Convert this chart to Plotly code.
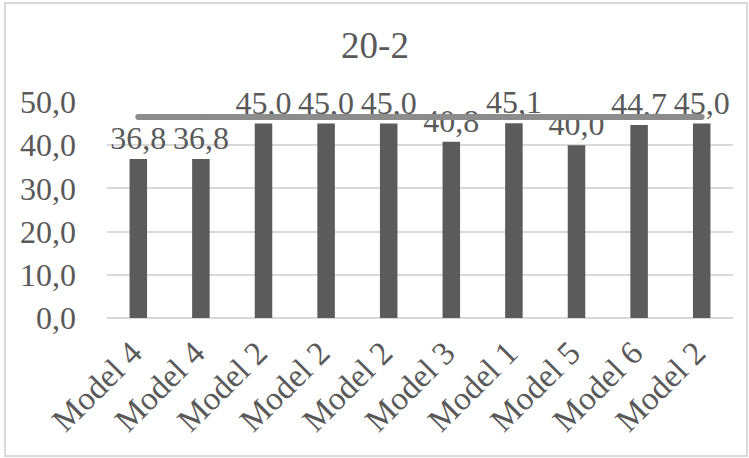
import plotly.graph_objects as go

categories = ["Model 4", "Model 4", "Model 2", "Model 2", "Model 2",
              "Model 3", "Model 1", "Model 5", "Model 6", "Model 2"]
values = [36.8, 36.8, 45.0, 45.0, 45.0, 40.8, 45.1, 40.0, 44.7, 45.0]
line_values = [46.5] * len(categories)
y_ticks = [0, 10, 20, 30, 40, 50]

W, H = 749, 458
L, R, T, B = 107, 16, 102, 140
pw, ph = W - L - R, H - T - B

x_idx = list(range(len(categories)))
FONT = "Liberation Serif"
TXT = "#595959"

fig = go.Figure()
fig.add_trace(go.Bar(
    x=x_idx, y=values, width=0.28, marker=dict(color="#5b5b5b", line=dict(width=0)),
    texttemplate="%{y:.1f}", textposition="outside", cliponaxis=False,
    constraintext="none",
    textfont=dict(family=FONT, size=32, color=TXT), showlegend=False,
))
fig.add_trace(go.Scatter(
    x=x_idx, y=line_values, mode="lines+markers",
    line=dict(color="#8c8c8c", width=6),
    marker=dict(color="#8c8c8c", size=6, line=dict(width=0)),
    showlegend=False, cliponaxis=False,
))

fig.update_layout(
    width=W, height=H, margin=dict(l=L, r=R, t=T, b=B),
    paper_bgcolor="white", plot_bgcolor="white", separators=",.",
    font=dict(family=FONT, color=TXT, size=30),
    title=dict(text="20-2", x=375 / W, xref="container", xanchor="center",
               y=1 - 45 / H, yref="container", yanchor="middle",
               font=dict(family=FONT, size=37, color=TXT)),
    xaxis=dict(tickvals=x_idx, ticktext=categories, tickangle=-45, range=[-0.5, 9.5],
               showgrid=False, zeroline=False, showline=False, ticks="",
               ticklabelstandoff=8, ticklabelshift=-6,
               tickfont=dict(family=FONT, size=33, color=TXT)),
    yaxis=dict(range=[0, 50], tickvals=y_ticks, tickformat=".1f",
               showgrid=True, gridcolor="#d9d9d9", gridwidth=1.5,
               zeroline=True, zerolinecolor="#d9d9d9", zerolinewidth=1.5,
               ticks="", ticklabelstandoff=30,
               tickfont=dict(family=FONT, size=32, color=TXT)),
    shapes=[dict(type="rect", xref="paper", yref="paper",
                 x0=(5 - L) / pw, x1=(747 - L) / pw,
                 y0=(H - B - 456) / ph, y1=(H - B - 3) / ph,
                 line=dict(color="#d9d9d9", width=2), fillcolor="rgba(0,0,0,0)",
                 layer="below")],
)

fig.write_html("out.html")
